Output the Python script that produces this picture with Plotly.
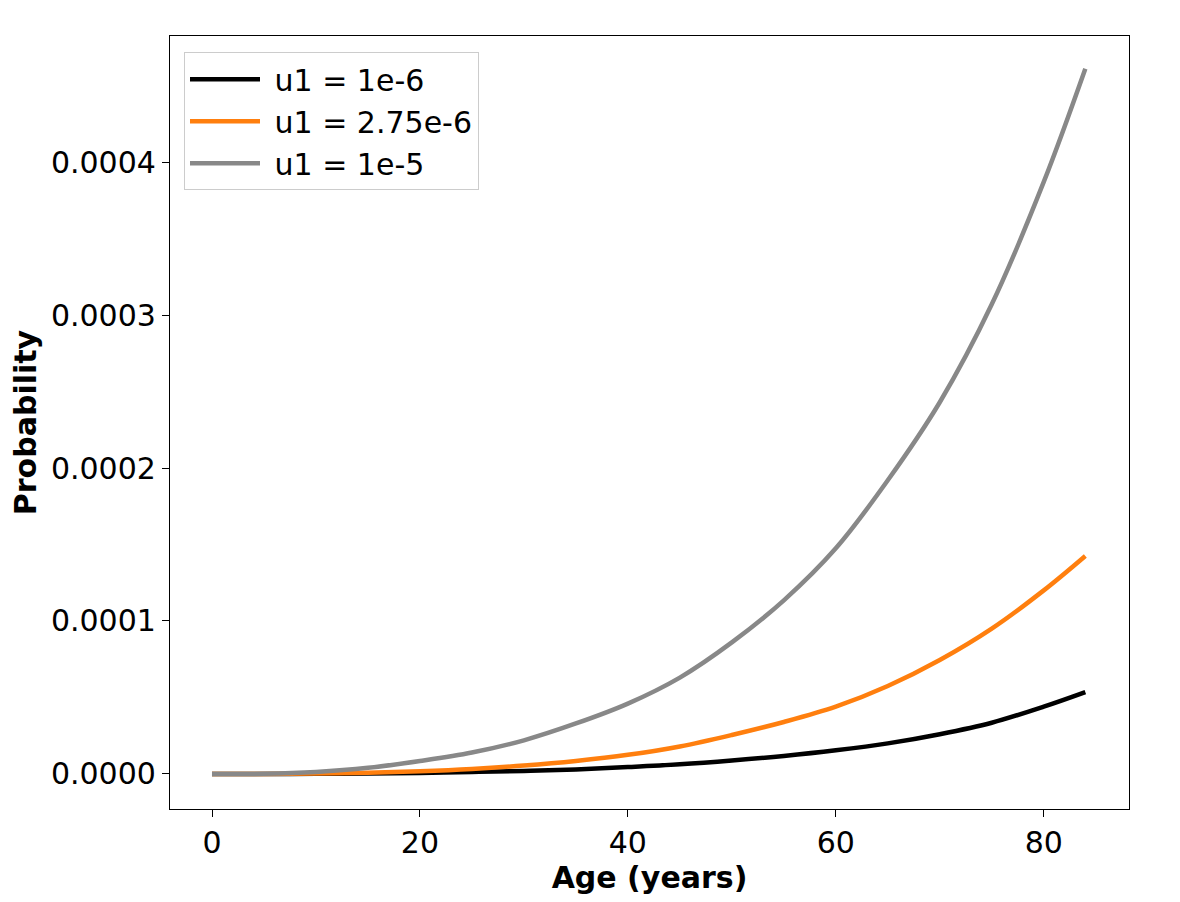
import plotly.graph_objects as go

# Ages and probabilities (units of 1e-4)
ages = [0, 5, 10, 15, 20, 25, 30, 35, 40, 45, 50, 55, 60, 65, 70, 75, 80, 84]

prob_u1_1e6 = [0, 0.0001, 0.001, 0.003, 0.007, 0.013, 0.02, 0.03, 0.045,
               0.063, 0.088, 0.118, 0.155, 0.2, 0.26, 0.335, 0.44, 0.535]
prob_u1_275e6 = [0, 0.0003, 0.003, 0.008, 0.018, 0.033, 0.055, 0.085, 0.125,
                 0.18, 0.255, 0.34, 0.44, 0.575, 0.745, 0.95, 1.2, 1.425]
prob_u1_1e5 = [0, 0.001, 0.013, 0.04, 0.085, 0.14, 0.22, 0.33, 0.46,
               0.63, 0.86, 1.135, 1.475, 1.92, 2.43, 3.07, 3.87, 4.61]

series = [
    ("u1 = 1e-6", prob_u1_1e6, "black"),
    ("u1 = 2.75e-6", prob_u1_275e6, "#ff7f0e"),
    ("u1 = 1e-5", prob_u1_1e5, "#888888"),
]

y_ticks = [0, 0.0001, 0.0002, 0.0003, 0.0004]
x_ticks = [0, 20, 40, 60, 80]

fig = go.Figure()
for name, values, color in series:
    fig.add_trace(go.Scatter(
        x=ages, y=[v * 1e-4 for v in values], name="\u00a0" + name, mode="lines",
        line={"color": color, "width": 4.5, "shape": "spline"},
    ))

# the page body adds ~8px offset, so margins are shifted to compensate
fig.update_layout(
    width=1180,
    height=902,
    margin={"l": 162, "r": 59, "t": 28, "b": 101},
    paper_bgcolor="white",
    plot_bgcolor="white",
    font={"family": "DejaVu Sans", "size": 30, "color": "black"},
    showlegend=True,
    legend={
        "x": 0.0146, "y": 0.979, "xanchor": "left", "yanchor": "top",
        "bgcolor": "rgba(255,255,255,0.8)",
        "bordercolor": "#cccccc", "borderwidth": 1,
        "font": {"size": 30},
        "itemwidth": 70,
    },
    xaxis={
        "range": [-4.04, 88.2],
        "tickvals": x_ticks,
        "ticks": "outside", "ticklen": 7, "tickwidth": 1.2, "tickcolor": "black",
        "showgrid": False, "zeroline": False,
        "showline": True, "linecolor": "black", "linewidth": 1.2, "mirror": True,
        "title": {"text": "<b>Age (years)</b>", "font": {"size": 30}, "standoff": 6},
    },
    yaxis={
        "range": [-0.229e-4, 4.824e-4],
        "tickvals": y_ticks,
        "tickformat": ".4f",
        "ticks": "outside", "ticklen": 7, "tickwidth": 1.2, "tickcolor": "black",
        "showgrid": False, "zeroline": False,
        "showline": True, "linecolor": "black", "linewidth": 1.2, "mirror": True,
        "title": {"text": "<b>Probability</b>", "font": {"size": 30}, "standoff": 8},
    },
)

fig.write_html("out.html")
